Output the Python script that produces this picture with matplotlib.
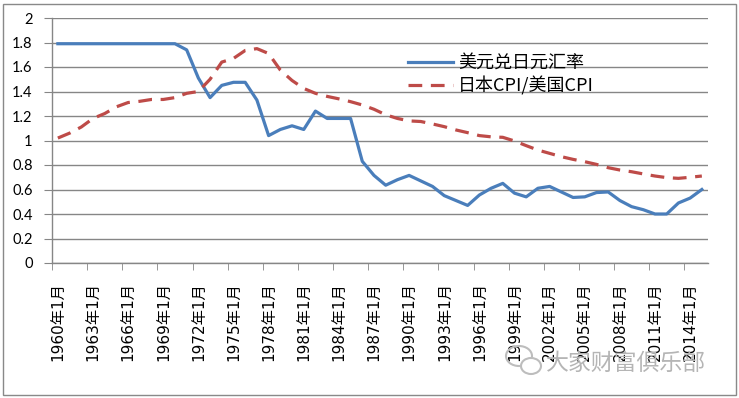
import numpy as np
import matplotlib
matplotlib.use('Agg')
import matplotlib.pyplot as plt
from matplotlib.patches import Rectangle, Ellipse

plt.rcParams['font.family'] = ['Noto Sans CJK SC', 'DejaVu Sans']

# data, yearly (January) values 1960-2015
years = list(range(1960, 2016))
fx = [1.79] * 11 + [
    1.74, 1.51, 1.35, 1.45, 1.475, 1.475, 1.33, 1.04, 1.09, 1.12,
    1.09, 1.24, 1.18, 1.18, 1.18, 0.83, 0.715, 0.635, 0.68, 0.715,
    0.67, 0.625, 0.55, 0.51, 0.47, 0.555, 0.61, 0.65, 0.57, 0.54,
    0.61, 0.625, 0.58, 0.535, 0.54, 0.575, 0.58, 0.51, 0.46, 0.435,
    0.40, 0.40, 0.49, 0.53, 0.60]
cpi = [
    1.02, 1.06, 1.11, 1.18, 1.22, 1.275, 1.31, 1.32, 1.335, 1.335,
    1.35, 1.385, 1.40, 1.50, 1.64, 1.67, 1.735, 1.75, 1.71, 1.575,
    1.49, 1.425, 1.385, 1.36, 1.34, 1.317, 1.29, 1.255, 1.21, 1.18,
    1.16, 1.155, 1.135, 1.113, 1.086, 1.064, 1.04, 1.03, 1.026, 0.996,
    0.958, 0.922, 0.895, 0.868, 0.846, 0.827, 0.805, 0.778, 0.759, 0.745,
    0.727, 0.71, 0.697, 0.691, 0.70, 0.71]
tick_labels = ['1960年1月', '1963年1月', '1966年1月', '1969年1月', '1972年1月',
               '1975年1月', '1978年1月', '1981年1月', '1984年1月', '1987年1月',
               '1990年1月', '1993年1月', '1996年1月', '1999年1月', '2002年1月',
               '2005年1月', '2008年1月', '2011年1月', '2014年1月']
lb1 = '美元兑日元汇率'
lb2 = '日本CPI/美国CPI'

W, H = 739, 398
fig = plt.figure(figsize=(W/100, H/100), dpi=100)
ax = fig.add_axes([52/W, (H-263)/H, 655.7/W, 245/H])

x = np.arange(len(years))
ax.plot(x, fx, color='#4A7EBB', lw=2.3, label=lb1, zorder=3, solid_joinstyle='round')
ax.plot(x, cpi, color='#BE4B48', lw=2.3, ls=(0, (4.3, 2.7)), label=lb2, zorder=4)

gc = '#868686'
ax.set_xlim(-0.5, len(years)-0.5)
ax.set_ylim(0, 2)
ax.set_yticks(np.arange(0, 2.01, 0.2))
ax.set_yticklabels(['%g' % v for v in np.arange(0, 2.01, 0.2).round(1)],
                   family=['Lato', 'DejaVu Sans'], fontsize=10.5)
ax.yaxis.grid(True, color=gc, lw=1)
ax.set_axisbelow(True)
ax.tick_params(axis='y', length=6, color=gc, pad=8)

ax.set_xticks(x[::3])
ax.set_xticklabels(tick_labels, rotation=90, fontsize=11, va='top', ha='center',
                   family=['DejaVu Sans', 'Noto Sans CJK SC'])
ax.set_xticks(np.arange(-0.5, len(years)-1, 3), minor=True)
ax.tick_params(axis='x', which='major', length=0, pad=14)
ax.tick_params(axis='x', which='minor', length=5, color=gc)

for s in ['top', 'right']:
    ax.spines[s].set_visible(False)
for s in ['left', 'bottom']:
    ax.spines[s].set_color(gc)
    ax.spines[s].set_linewidth(1)

ax.legend(loc='upper left', bbox_to_anchor=((408-52)/655.7, (263-54)/245),
          frameon=False, fontsize=13, handlelength=2.5, handletextpad=0.28,
          labelspacing=0.25, borderpad=0, borderaxespad=0)

# outer frame
fig.add_artist(Rectangle((3/W, 3/H), 733/W, 391/H, transform=fig.transFigure,
                         fill=False, edgecolor='#898989', lw=1))

# watermark
fig.add_artist(Ellipse((519/W, (H-356)/H), 26/W, 20/H, transform=fig.transFigure,
                       fill=False, edgecolor='#bdbdbd', lw=1.5))
fig.add_artist(Ellipse((531/W, (H-366)/H), 20/W, 16/H, transform=fig.transFigure,
                       facecolor='white', edgecolor='#bdbdbd', lw=1.5))
fig.text(546/W, (H-363)/H, '大家财富俱乐部', fontsize=16.5, color='#b5b5b5',
         va='center', ha='left')

fig.savefig('out.png', dpi=100)
